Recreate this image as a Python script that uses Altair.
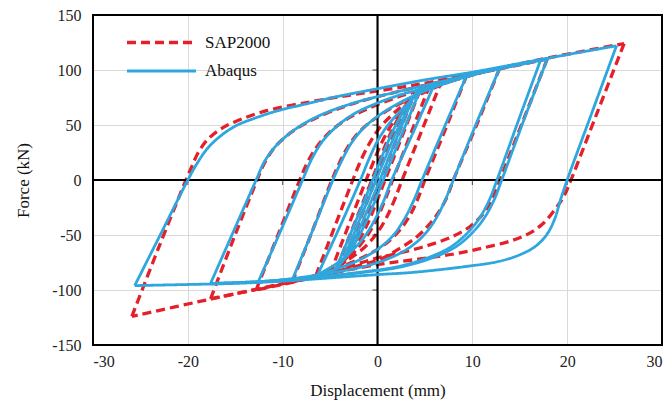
import altair as alt
import pandas as pd

X_TICKS = [-30, -20, -10, 0, 10, 20, 30]
Y_TICKS = [-150, -100, -50, 0, 50, 100, 150]
SERIES = ["SAP2000", "Abaqus"]
RED = "#e4212a"
BLUE = "#2ea7de"

# ---------------- SAP2000 branches (x mm, y kN) ----------------
SAP_1_DOWN = [(3.6, 72), (0.3, 0), (-0.6, -20), (-1.5, -39), (-2.4, -55), (-3.4, -70)]
SAP_1_UP = [(-3.4, -70), (-0.2, 0), (0.7, 20), (1.6, 39), (2.6, 57), (3.6, 72)]
SAP_2_DOWN = [(4.5, 82), (0.8, 0), (-0.1, -20), (-1.0, -39), (-2.0, -55), (-3.1, -69), (-4.3, -80)]
SAP_2_UP = [(-4.3, -80), (-0.6, 0), (0.3, 20), (1.2, 39), (2.2, 56), (3.3, 70), (4.5, 82)]
SAP_3_DOWN = [(5.5, 86), (1.6, 0), (0.8, -18), (-0.1, -36), (-1.2, -52), (-2.5, -66), (-3.8, -77), (-5.0, -85)]
SAP_3_UP = [(-5.0, -85), (-1.2, 0), (-0.4, 17), (0.5, 35), (1.6, 52), (2.8, 66), (4.1, 77), (5.5, 86)]
SAP_4_DOWN = [(6.8, 91), (2.6, 0), (1.8, -18), (0.9, -35), (-0.2, -50), (-1.6, -63), (-3.2, -73), (-4.8, -81), (-6.5, -87)]
SAP_4_UP = [(-6.5, -87), (-2.6, 0), (-1.9, 15), (-1.0, 31), (0.1, 46), (1.5, 59), (3.0, 70), (4.8, 81), (6.8, 91)]
SAP_5_DOWN = [(9.4, 95), (7.2, 47), (5.0, 0), (4.3, -16), (3.5, -31), (2.4, -45), (1.0, -57), (-0.8, -67), (-3.0, -76), (-5.5, -84), (-9.0, -93)]
SAP_5_UP = [(-9.0, -93), (-6.9, -47), (-4.8, 0), (-4.1, 14), (-3.2, 29), (-2.0, 43), (-0.4, 55), (1.6, 66), (4.0, 76), (6.6, 86), (9.4, 95)]
SAP_6_DOWN = [(12.9, 102), (10.5, 51), (8.0, 0), (7.3, -16), (6.4, -30), (5.4, -41), (4.1, -52), (2.0, -64), (0.3, -72), (-2.5, -79), (-6.0, -87), (-9.0, -93), (-12.8, -100)]
SAP_6_UP = [(-12.8, -100), (-10.5, -50), (-8.2, 0), (-7.5, 14), (-6.5, 29), (-5.1, 43), (-3.3, 55), (-1.0, 65), (2.0, 75), (5.5, 84), (9.0, 93), (12.9, 102)]
SAP_7_DOWN = [(17.9, 110), (15.4, 55), (12.9, 0), (12.2, -15), (11.2, -30), (9.8, -42), (8.0, -51), (5.5, -59), (2.5, -66), (-0.5, -72), (-3.5, -80), (-7.0, -88), (-12.0, -98), (-17.6, -108)]
SAP_7_UP = [(-17.6, -108), (-15.2, -54), (-12.7, 0), (-12.0, 14), (-11.0, 28), (-9.6, 40), (-7.5, 52), (-5.0, 62), (-2.0, 71), (2.0, 80), (6.0, 88), (10.0, 96), (14.0, 103), (17.9, 110)]
SAP_8_DOWN = [(26.0, 124), (23.2, 62), (20.4, 0), (19.7, -14), (18.7, -27), (17.4, -40), (15.9, -49), (14.2, -55), (11.0, -62), (7.9, -67.5), (4.3, -72), (0.3, -76.5), (-5.0, -85), (-12.0, -98), (-18.0, -109), (-25.9, -124)]
SAP_8_UP = [(-25.9, -124), (-23.1, -62), (-20.2, 0), (-19.6, 12), (-18.9, 25), (-18.0, 36), (-16.6, 46), (-15.0, 53), (-11.7, 63), (-7.1, 71), (-3.0, 77), (0.0, 81), (3.7, 86), (8.0, 93), (13.0, 102), (18.0, 111), (26.0, 124)]

# ---------------- Abaqus branches ----------------
ABQ_1_DOWN = [(3.6, 72), (0.25, 0), (-0.95, -25), (-2.0, -46), (-2.9, -61), (-3.5, -70)]
ABQ_1_UP = [(-3.5, -70), (-0.15, 0), (1.05, 25), (2.1, 46), (3.0, 61), (3.6, 72)]
ABQ_2_DOWN = [(4.6, 84), (0.6, 0), (-0.5, -24), (-1.6, -45), (-2.7, -62), (-3.6, -73), (-4.4, -81)]
ABQ_2_UP = [(-4.4, -81), (-0.5, 0), (0.6, 24), (1.7, 46), (2.8, 63), (3.7, 75), (4.6, 84)]
ABQ_3_DOWN = [(6.1, 89), (3.8, 44), (1.5, 0), (0.6, -20), (-0.4, -38), (-1.5, -53), (-2.9, -66), (-4.5, -77), (-6.3, -86)]
ABQ_3_UP = [(-6.3, -86), (-4.0, -43), (-1.8, 0), (-0.9, 19), (0.1, 37), (1.3, 52), (2.7, 65), (4.3, 78), (6.1, 89)]
ABQ_4_DOWN = [(9.4, 95), (7.0, 47), (4.7, 0), (3.8, -19), (2.8, -36), (1.6, -51), (0.0, -63), (-2.0, -73), (-4.4, -81), (-6.7, -87), (-9.0, -91)]
ABQ_4_UP = [(-9.0, -91), (-6.8, -45), (-4.7, 0), (-3.8, 17), (-2.8, 33), (-1.5, 47), (0.2, 59), (2.5, 71), (5.0, 81), (7.2, 88), (9.4, 95)]
ABQ_5_DOWN = [(12.9, 102), (10.4, 51), (8.0, 0), (7.1, -19), (6.1, -36), (4.8, -51), (3.1, -63), (1.0, -72), (-1.6, -79), (-4.6, -84), (-8.4, -89), (-12.6, -93)]
ABQ_5_UP = [(-12.6, -93), (-10.2, -46), (-7.9, 0), (-7.0, 18), (-5.9, 34), (-4.4, 48), (-2.5, 60), (0.0, 70), (3.0, 79), (6.2, 86), (9.5, 94), (12.9, 102)]
ABQ_6_DOWN = [(17.2, 109), (14.9, 55), (12.6, 0), (11.8, -18), (10.8, -34), (9.5, -48), (7.7, -61), (5.2, -71), (2.0, -79), (-2.0, -84), (-6.0, -88), (-10.0, -91), (-14.0, -93), (-17.6, -94)]
ABQ_6_UP = [(-17.6, -94), (-15.2, -47), (-12.8, 0), (-11.9, 17), (-10.6, 32), (-8.7, 46), (-6.0, 59), (-2.5, 70), (2.0, 80), (6.0, 88), (10.0, 96), (14.0, 103), (17.9, 110)]
ABQ_6B_DOWN = [(17.9, 110), (15.5, 56), (13.1, 0), (12.3, -18), (11.3, -34), (10.0, -48), (8.2, -61), (5.7, -71), (2.5, -79), (-1.5, -84), (-6.0, -88), (-10.0, -91), (-14.0, -93), (-17.6, -94)]
ABQ_7_DOWN = [(25.2, 122), (22.6, 61), (20.0, 0), (19.3, -18), (18.7, -35), (17.9, -49), (16.7, -60), (15.0, -68), (12.8, -74), (9.0, -79), (3.7, -84), (0.0, -86), (-5.0, -89), (-10.0, -92), (-15.0, -94), (-20.0, -95), (-25.6, -96)]
ABQ_7_UP = [(-25.6, -96), (-22.8, -48), (-20.0, 0), (-19.1, 14), (-18.0, 28), (-16.7, 39), (-15.0, 49), (-13.0, 56), (-10.5, 63), (-7.1, 70), (-4.7, 75), (0.0, 83), (5.0, 91), (10.0, 98), (15.0, 106), (20.0, 114), (25.2, 122)]

SAP_BRANCHES = [SAP_1_DOWN, SAP_1_UP, SAP_2_DOWN, SAP_2_UP, SAP_3_DOWN, SAP_3_UP, SAP_4_DOWN, SAP_4_UP,
                SAP_5_DOWN, SAP_5_UP, SAP_6_DOWN, SAP_6_UP, SAP_7_DOWN, SAP_7_UP, SAP_8_DOWN, SAP_8_UP]
ABQ_BRANCHES = [ABQ_1_DOWN, ABQ_1_UP, ABQ_2_DOWN, ABQ_2_UP, ABQ_3_DOWN, ABQ_3_UP, ABQ_4_DOWN, ABQ_4_UP,
                ABQ_5_DOWN, ABQ_5_UP, ABQ_6_DOWN, ABQ_6_UP, ABQ_6B_DOWN, ABQ_7_DOWN, ABQ_7_UP]

rows = []
for series, branches in (("SAP2000", SAP_BRANCHES), ("Abaqus", ABQ_BRANCHES)):
    for b, pts in enumerate(branches):
        for i, (x, y) in enumerate(pts):
            rows.append({"series": series, "branch": f"{series}_{b}", "i": i, "x": x, "y": y})
df = pd.DataFrame(rows)

xt = pd.DataFrame({"x": X_TICKS})
yt = pd.DataFrame({"y": Y_TICKS})

FONT = "Liberation Serif, Times New Roman, serif"
W, H = 569, 330

xscale = alt.Scale(domain=[-30, 30], nice=False, zero=False)
yscale = alt.Scale(domain=[-150, 150], nice=False, zero=False)

legend = alt.Legend(
    title=None, orient="none", legendX=55, legendY=14, symbolType="M-3,0L3,0",
    symbolSize=529, symbolStrokeWidth=3.3, labelFont=FONT, labelFontSize=17,
    labelColor="#111", padding=0, rowPadding=7, labelOffset=30,
)

LABEL_EXPR = "'' + datum.value"
x_enc = alt.X("x:Q", scale=xscale, axis=alt.Axis(
    values=X_TICKS, title="Displacement (mm)", grid=True, gridColor="#d9d9d9",
    domain=False, ticks=False, labelPadding=8, labelFont=FONT, labelFontSize=16,
    labelColor="#222", labelExpr=LABEL_EXPR, titleFont=FONT, titleFontSize=17,
    titleFontWeight="normal", titleColor="#111", titleY=37))
y_enc = alt.Y("y:Q", scale=yscale, axis=alt.Axis(
    values=Y_TICKS, title="Force (kN)", grid=True, gridColor="#d9d9d9",
    domain=False, ticks=False, labelPadding=12, labelFont=FONT, labelFontSize=16,
    labelColor="#222", labelExpr=LABEL_EXPR, titleFont=FONT, titleFontSize=17,
    titleFontWeight="normal", titleColor="#111", titleX=-70, titleY=165,
    titleBaseline="middle"))

# zero axes (rules) and their tick marks
zero_x = alt.Chart(xt).mark_rule(color="black", strokeWidth=1.2).encode(
    x=alt.datum(0), y=alt.datum(-150), y2=alt.datum(150))
zero_y = alt.Chart(yt).mark_rule(color="black", strokeWidth=1.2).encode(
    y=alt.datum(0), x=alt.datum(-30), x2=alt.datum(30))
ticks_x = alt.Chart(xt).mark_tick(color="black", orient="vertical", size=5, thickness=1, yOffset=2.5).encode(
    x="x:Q", y=alt.datum(0))
ticks_y = alt.Chart(yt).mark_tick(color="black", orient="horizontal", size=5, thickness=1, xOffset=-2.5).encode(
    y="y:Q", x=alt.datum(0))

base = alt.Chart(df).mark_line(interpolate="catmull-rom", strokeCap="butt").encode(
    x=x_enc,
    y=y_enc,
    color=alt.Color("series:N", scale=alt.Scale(domain=SERIES, range=[RED, BLUE]), legend=legend),
    strokeDash=alt.StrokeDash("series:N", scale=alt.Scale(domain=SERIES, range=[[9, 5], [1, 0]]), legend=legend),
    strokeWidth=alt.StrokeWidth("series:N", scale=alt.Scale(domain=SERIES, range=[3.3, 2.8]), legend=None),
    detail="branch:N",
    order="i:Q",
)

frame = alt.Chart(xt).mark_rect(fill=None, stroke="black", strokeWidth=2).encode(
    x=alt.datum(-30), x2=alt.datum(30), y=alt.datum(-150), y2=alt.datum(150))

chart = alt.layer(
    base.transform_filter(alt.datum.series == "SAP2000"),
    zero_x, zero_y, ticks_x, ticks_y,
    base.transform_filter(alt.datum.series == "Abaqus"),
    frame,
).properties(
    width=W, height=H,
    autosize=alt.AutoSizeParams(type="none"),
    padding={"left": 93, "top": 15, "right": 8, "bottom": 60},
).configure_view(stroke=None).configure(background="white")

chart.save("out.html", embed_options={"renderer": "svg", "actions": False})
